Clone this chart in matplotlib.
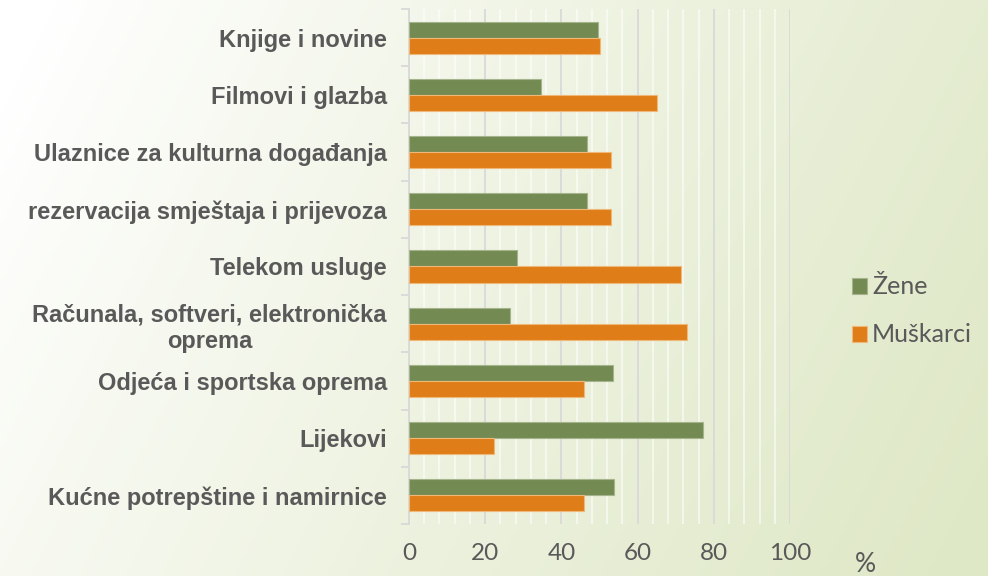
import matplotlib.pyplot as plt
import numpy as np
from matplotlib.ticker import MultipleLocator

# podaci (očitani sa slike), od vrha prema dnu
categories = [
    "Knjige i novine",
    "Filmovi i glazba",
    "Ulaznice za kulturna događanja",
    "rezervacija smještaja i prijevoza",
    "Telekom usluge",
    "Računala, softveri, elektronička\noprema",
    "Odjeća i sportska oprema",
    "Lijekovi",
    "Kućne potrepštine i namirnice",
]
zene = [49.6, 34.7, 46.6, 46.6, 28.4, 26.6, 53.6, 77.2, 53.7]
muskarci = [50.2, 65.1, 53.0, 53.0, 71.3, 73.0, 46.0, 22.4, 45.9]

green = "#738A52"
orange = "#DF7D18"
text_gray = "#595959"

fig = plt.figure(figsize=(9.88, 5.76), dpi=100)

# pozadina s prijelazom boje
bg = fig.add_axes([0, 0, 1, 1], zorder=-10)
xx, yy = np.meshgrid(np.linspace(0, 1, 300), np.linspace(0, 1, 200))
t = np.clip(0.85 * xx + 0.25 * yy - 0.05, 0, 1) ** 0.9
c0 = np.array([1.0, 1.0, 1.0])
c1 = np.array([0.875, 0.910, 0.780])
img = c0[None, None, :] * (1 - t[..., None]) + c1[None, None, :] * t[..., None]
bg.imshow(img, aspect="auto", extent=[0, 1, 0, 1], origin="upper")
bg.axis("off")

ax = fig.add_axes([409 / 988, 1 - 524 / 576, 381 / 988, 515 / 576])
ax.patch.set_alpha(0)

y = np.arange(len(categories))
h = 0.28
ax.barh(y - h / 2, zene, height=h, color=green, edgecolor="#A5B48C", linewidth=0.8,
        label="Žene", zorder=3)
ax.barh(y + h / 2, muskarci, height=h, color=orange, edgecolor="#F0B878", linewidth=0.8,
        label="Muškarci", zorder=3)

ax.set_xlim(0, 100)
ax.set_ylim(len(categories) - 0.5, -0.5)

# mreža
ax.xaxis.set_major_locator(MultipleLocator(20))
ax.xaxis.set_minor_locator(MultipleLocator(4))
ax.grid(axis="x", which="major", color="#D9D9D9", linewidth=1.3, zorder=1)
ax.grid(axis="x", which="minor", color="#FFFFFF", alpha=0.6, linewidth=1.3, zorder=1)
ax.set_axisbelow(True)

for s in ["top", "right", "bottom"]:
    ax.spines[s].set_visible(False)
ax.spines["left"].set_color("#D9D9D9")
ax.spines["left"].set_linewidth(1.3)

ax.set_yticks(y)
ax.set_yticklabels(categories, fontsize=17, fontweight="bold", color=text_gray,
                   family="Liberation Sans", multialignment="center")
ax.set_yticks(np.arange(len(categories) + 1) - 0.5, minor=True)
ax.tick_params(axis="y", which="major", length=0, pad=16)
ax.tick_params(axis="y", which="minor", length=6, width=1.3, color="#D9D9D9")

ax.tick_params(axis="x", which="both", length=0, pad=14, labelsize=17.5, labelcolor=text_gray)
for lab in ax.get_xticklabels():
    lab.set_family("Lato")

fig.text(865 / 988, 1 - 565 / 576, "%", fontsize=19, color=text_gray, family="Lato",
         ha="center", va="center")

leg = ax.legend(loc="center left", bbox_to_anchor=(829 / 988, 1 - 311 / 576),
                bbox_transform=fig.transFigure, frameon=False, handlelength=0.62,
                handleheight=0.62, handletextpad=0.2, labelspacing=1.0,
                prop={"family": "Lato", "size": 18})
for txt in leg.get_texts():
    txt.set_color(text_gray)

plt.savefig("out.png", dpi=100)
plt.close()
